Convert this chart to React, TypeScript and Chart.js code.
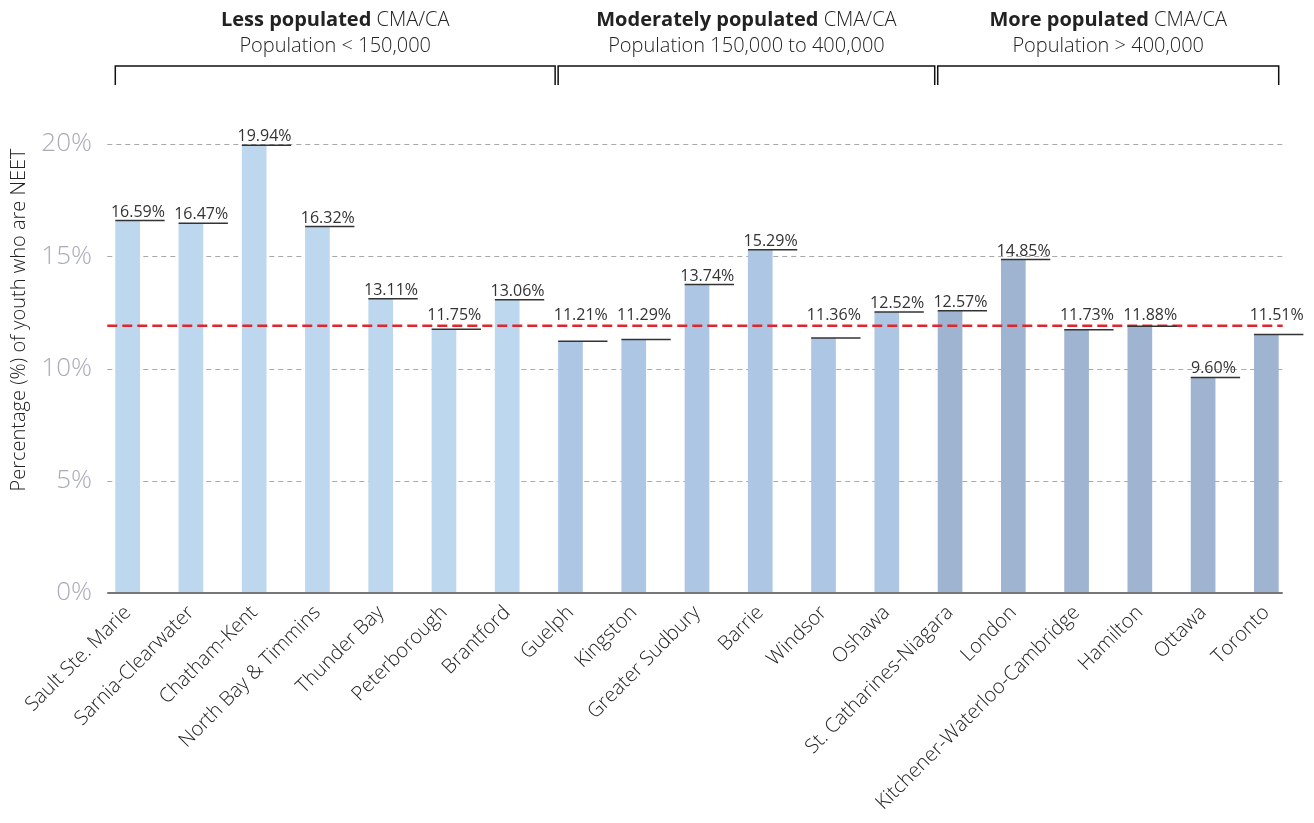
import React, { useEffect, useRef } from "react";
import { Chart, registerables } from "chart.js";

Chart.register(...registerables);

// Census metropolitan areas / agglomerations, ordered by population group
const categories = [
  "Sault Ste. Marie",
  "Sarnia-Clearwater",
  "Chatham-Kent",
  "North Bay & Timmins",
  "Thunder Bay",
  "Peterborough",
  "Brantford",
  "Guelph",
  "Kingston",
  "Greater Sudbury",
  "Barrie",
  "Windsor",
  "Oshawa",
  "St. Catharines-Niagara",
  "London",
  "Kitchener-Waterloo-Cambridge",
  "Hamilton",
  "Ottawa",
  "Toronto",
];

// Share of youth not in employment, education or training (%)
const neetRates = [
  16.59, 16.47, 19.94, 16.32, 13.11, 11.75, 13.06, 11.21, 11.29, 13.74, 15.29,
  11.36, 12.52, 12.57, 14.85, 11.73, 11.88, 9.6, 11.51,
];

// Population group index for each area (0 = less, 1 = moderately, 2 = more populated)
const populationGroup = [0, 0, 0, 0, 0, 0, 0, 1, 1, 1, 1, 1, 1, 2, 2, 2, 2, 2, 2];

const groupTitleBold = ["Less populated", "Moderately populated", "More populated"];
const groupTitleRest = [" CMA/CA", " CMA/CA", " CMA/CA"];
const groupSubtitle = [
  "Population < 150,000",
  "Population 150,000 to 400,000",
  "Population > 400,000",
];
const groupColors = ["#bdd7ee", "#adc6e4", "#9fb4d0"];

// Provincial reference level shown as the red dashed line (%)
const referenceRate = 11.9;

const yTicks = [0, 5, 10, 15, 20];
const yAxisTitle = "Percentage (%) of youth who are NEET";

const FONT = "'Open Sans', 'Noto Sans', sans-serif";

const overlayPlugin = {
  id: "neetOverlay",
  beforeDatasetsDraw(chart: any) {
    const { ctx } = chart;
    const xs = chart.scales.x;
    const ys = chart.scales.y;
    const meta = chart.getDatasetMeta(0);
    const bw = meta.data[0].width;
    const x0 = xs.getPixelForValue(0) - bw / 2 - 8;
    const x1 = xs.getPixelForValue(categories.length - 1) + bw / 2 + 4;
    ctx.save();
    ctx.strokeStyle = "#a9a9a9";
    ctx.lineWidth = 1;
    ctx.setLineDash([5, 4]);
    yTicks.forEach((t) => {
      if (t === 0) return;
      const y = Math.round(ys.getPixelForValue(t)) + 0.5;
      ctx.beginPath();
      ctx.moveTo(x0, y);
      ctx.lineTo(x1, y);
      ctx.stroke();
    });
    ctx.restore();
  },
  afterDatasetsDraw(chart: any) {
    const { ctx } = chart;
    const xs = chart.scales.x;
    const ys = chart.scales.y;
    const meta = chart.getDatasetMeta(0);
    const bw = meta.data[0].width;
    const n = categories.length;
    const x0 = xs.getPixelForValue(0) - bw / 2 - 8;
    const x1 = xs.getPixelForValue(n - 1) + bw / 2 + 4;

    ctx.save();
    // baseline
    const y0 = ys.getPixelForValue(0);
    ctx.strokeStyle = "#767676";
    ctx.lineWidth = 2;
    ctx.beginPath();
    ctx.moveTo(x0, y0);
    ctx.lineTo(x1, y0);
    ctx.stroke();

    // reference line
    const ry = ys.getPixelForValue(referenceRate);
    ctx.strokeStyle = "#e0262c";
    ctx.lineWidth = 2.5;
    ctx.setLineDash([10, 5]);
    ctx.beginPath();
    ctx.moveTo(x0, ry);
    ctx.lineTo(x1, ry);
    ctx.stroke();
    ctx.setLineDash([]);

    // value labels with underline at bar top
    ctx.font = `16px ${FONT}`;
    ctx.fillStyle = "#333";
    ctx.textAlign = "center";
    ctx.textBaseline = "alphabetic";
    neetRates.forEach((v, i) => {
      const bar = meta.data[i];
      const left = bar.x - bar.width / 2;
      const top = bar.y;
      const lw = bar.width * 2;
      ctx.strokeStyle = "#333";
      ctx.lineWidth = 1.5;
      ctx.beginPath();
      ctx.moveTo(left, top);
      ctx.lineTo(left + lw, top);
      ctx.stroke();
      let base = top - 4;
      if (v <= referenceRate && v > referenceRate - 1.5) {
        base = ry - 6;
      }
      ctx.fillText(v.toFixed(2) + "%", left + lw / 2 - 2, base);
    });

    // group brackets and titles
    for (let g = 0; g < 3; g++) {
      const idx = populationGroup
        .map((p, i) => (p === g ? i : -1))
        .filter((i) => i >= 0);
      const first = idx[0];
      const last = idx[idx.length - 1];
      const bx0 = xs.getPixelForValue(first) - bw / 2;
      const bx1 =
        last === n - 1
          ? xs.getPixelForValue(last) + bw / 2
          : xs.getPixelForValue(last + 1) - bw / 2 - 3;
      ctx.strokeStyle = "#111";
      ctx.lineWidth = 1.5;
      ctx.beginPath();
      ctx.moveTo(bx0, 85);
      ctx.lineTo(bx0, 66);
      ctx.lineTo(bx1, 66);
      ctx.lineTo(bx1, 85);
      ctx.stroke();

      const cx = (bx0 + bx1) / 2;
      ctx.fillStyle = "#222";
      ctx.textBaseline = "alphabetic";
      ctx.font = `bold 20px ${FONT}`;
      const wb = ctx.measureText(groupTitleBold[g]).width;
      ctx.font = `300 20px ${FONT}`;
      const wr = ctx.measureText(groupTitleRest[g]).width;
      const sx = cx - (wb + wr) / 2;
      ctx.textAlign = "left";
      ctx.font = `bold 20px ${FONT}`;
      ctx.fillText(groupTitleBold[g], sx, 26);
      ctx.font = `300 20px ${FONT}`;
      ctx.fillText(groupTitleRest[g], sx + wb, 26);
      ctx.textAlign = "center";
      ctx.fillText(groupSubtitle[g], cx, 52);
    }

    // y axis title
    ctx.translate(19, 320);
    ctx.rotate(-Math.PI / 2);
    ctx.font = `300 20px ${FONT}`;
    ctx.fillStyle = "#222";
    ctx.textAlign = "center";
    ctx.textBaseline = "middle";
    ctx.fillText(yAxisTitle, 0, 0);
    ctx.restore();
  },
};

export default function App() {
  const canvasRef = useRef<HTMLCanvasElement | null>(null);

  useEffect(() => {
    document.body.style.margin = "0";
    const canvas = canvasRef.current;
    if (!canvas) return;
    const chart = new Chart(canvas, {
      type: "bar",
      data: {
        labels: categories,
        datasets: [
          {
            data: neetRates,
            backgroundColor: populationGroup.map((g) => groupColors[g]),
            barPercentage: 0.39,
            categoryPercentage: 1,
          },
        ],
      },
      options: {
        animation: false,
        responsive: true,
        maintainAspectRatio: false,
        layout: { padding: { top: 144, right: 16, left: 0, bottom: 0 } },
        plugins: {
          legend: { display: false },
          tooltip: { enabled: false },
        },
        scales: {
          x: {
            grid: { display: false, drawTicks: false },
            border: { display: false },
            ticks: {
              minRotation: 45,
              maxRotation: 45,
              autoSkip: false,
              padding: 8,
              color: "#222",
              font: { family: FONT, size: 20, weight: "300" },
            },
            afterFit: (s: any) => {
              s.height = 230;
            },
          },
          y: {
            min: 0,
            max: 20,
            grid: { display: false, drawTicks: false },
            border: { display: false },
            ticks: {
              stepSize: 5,
              padding: 4,
              color: "#a8acb8",
              font: { family: FONT, size: 26, weight: "300" },
              callback: (v: any) => `${v}%`,
            },
            afterFit: (s: any) => {
              s.width = 96;
            },
          },
        },
      },
      plugins: [overlayPlugin],
    });
    return () => chart.destroy();
  }, []);

  return (
    <div style={{ width: 1314, height: 823, position: "relative" }}>
      <canvas ref={canvasRef} />
    </div>
  );
}
